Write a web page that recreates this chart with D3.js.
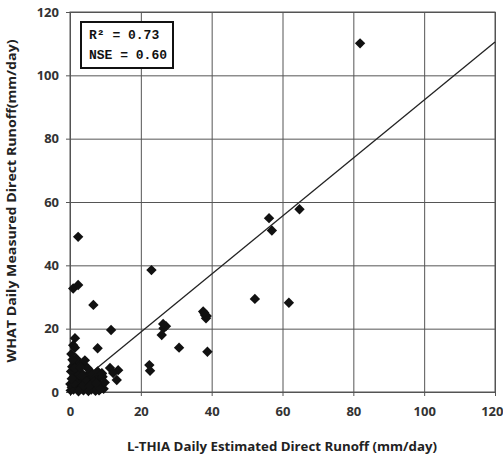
<!DOCTYPE html>
<html lang="en">
<head>
<meta charset="UTF-8">
<title>Runoff scatter</title>
<script src="https://cdn.jsdelivr.net/npm/d3@7"></script>
<style>
  body { margin: 0; background: #fff; }
  svg { display: block; }
</style>
</head>
<body>
<svg id="chart"></svg>
<script>
// L-THIA estimated (x) vs WHAT measured (y) daily direct runoff, mm/day
var estRunoff = [81.9, 56.2, 57.0, 64.8, 52.2, 61.8,
  2.3, 0.9, 2.3, 6.6, 23.0, 11.6, 7.8, 1.4, 0.9, 1.4,
  22.4, 22.6, 26.4, 25.9, 27.1, 26.3, 30.8, 37.6, 38.1, 38.4, 38.6, 37.9, 38.8,
  11.3, 13.6, 13.2, 9.0, 12.2,
  0.2, 0.5, 0.8, 1.0, 1.2, 0.3, 0.6, 1.5, 2.0, 2.5, 2.2, 3.0, 3.5, 3.2, 4.0, 4.5,
  4.8, 5.5, 5.8, 6.2, 6.5, 7.0, 7.5, 8.0, 8.5, 8.8, 5.0, 2.8, 1.8, 4.2, 0.4, 3.8,
  6.0, 7.8, 9.2, 0.1, 1.6, 2.6, 4.4,
  9.5, 9.8, 9.0, 8.2, 7.2, 6.8, 5.2, 3.6, 2.4, 1.1, 0.7, 5.6, 7.4, 8.6, 3.4, 1.3, 0.5, 2.9];
var measRunoff = [110.1, 54.9, 51.0, 57.7, 29.4, 28.2,
  49.0, 32.7, 33.8, 27.5, 38.5, 19.6, 13.8, 17.0, 14.8, 14.0,
  8.5, 6.7, 20.1, 18.0, 20.8, 21.5, 14.0, 25.4, 24.3, 23.3, 24.0, 25.0, 12.7,
  7.6, 6.9, 3.8, 5.9, 6.0,
  0.5, 1.5, 3.0, 0.8, 5.0, 6.5, 8.0, 9.5, 7.0, 4.0, 2.0, 1.0, 3.5, 6.0, 8.5, 5.0,
  2.5, 1.2, 4.0, 6.0, 2.5, 4.5, 1.5, 3.0, 5.0, 2.0, 7.5, 9.0, 10.5, 10.0, 12.0, 0.5,
  0.8, 6.5, 4.8, 2.5, 3.0, 5.5, 3.8,
  1.0, 3.0, 5.8, 0.5, 0.4, 3.3, 0.3, 1.8, 0.2, 2.8, 10.2, 2.0, 2.8, 1.0, 5.2, 7.5, 4.2, 7.8];
var fitStart = 6, fitEnd = 120;
var fitSlope = 0.916, fitIntercept = 0.6;
var xTicks = [0, 20, 40, 60, 80, 100, 120];
var yTicks = [0, 20, 40, 60, 80, 100, 120];
var statLines = ["R\u00b2 = 0.73", "NSE = 0.60"];

var W = 503, H = 459;
var margin = {top: 12, right: 8, bottom: 67, left: 70};

var svg = d3.select("#chart").attr("width", W).attr("height", H);
svg.append("rect").attr("width", W).attr("height", H).attr("fill", "#fff");

var x = d3.scaleLinear().domain([0, 120]).range([margin.left, W - margin.right]);
var y = d3.scaleLinear().domain([0, 120]).range([H - margin.bottom, margin.top]);

var gridColor = "#555";
var labelFont = "'Open Sans', 'DejaVu Sans', sans-serif";

// gridlines + ticks
svg.append("g")
  .attr("transform", "translate(0," + (H - margin.bottom) + ")")
  .call(d3.axisBottom(x).tickValues(xTicks)
    .tickSize(-(H - margin.top - margin.bottom)).tickPadding(15))
  .call(function(g) {
    g.select(".domain").remove();
    g.selectAll(".tick line").attr("stroke", gridColor).attr("y2", 4)
      .attr("y1", -(H - margin.top - margin.bottom));
    g.selectAll(".tick text").attr("fill", "#333")
      .style("font", "bold 13px " + labelFont);
    // last label sits on the right edge, keep it inside
    g.selectAll(".tick text").filter(function(d) { return d === 120; })
      .attr("text-anchor", "end").attr("x", 8);
  });

svg.append("g")
  .attr("transform", "translate(" + margin.left + ",0)")
  .call(d3.axisLeft(y).tickValues(yTicks).tickSize(4).tickPadding(7))
  .call(function(g) {
    g.select(".domain").remove();
    g.selectAll(".tick line").attr("stroke", gridColor)
      .attr("x1", W - margin.left - margin.right).attr("x2", -4);
    g.selectAll(".tick text").attr("fill", "#333")
      .style("font", "bold 13px " + labelFont);
  });

// plot border
svg.append("rect")
  .attr("x", margin.left).attr("y", margin.top)
  .attr("width", W - margin.left - margin.right)
  .attr("height", H - margin.top - margin.bottom)
  .attr("fill", "none").attr("stroke", gridColor).attr("stroke-width", 1);

// regression line
svg.append("line")
  .attr("x1", x(fitStart)).attr("y1", y(fitSlope * fitStart + fitIntercept))
  .attr("x2", x(fitEnd)).attr("y2", y(fitSlope * fitEnd + fitIntercept))
  .attr("stroke", "#222").attr("stroke-width", 1.3);

// diamonds
var r = 5.2;
svg.append("g").selectAll("path")
  .data(d3.range(estRunoff.length))
  .enter().append("path")
  .attr("transform", function(i) { return "translate(" + x(estRunoff[i]) + "," + y(measRunoff[i]) + ")"; })
  .attr("d", "M0," + (-r) + "L" + r + ",0L0," + r + "L" + (-r) + ",0Z")
  .attr("fill", "#111");

// stats box
svg.append("rect")
  .attr("x", 81).attr("y", 22).attr("width", 92).attr("height", 46)
  .attr("fill", "#fff").attr("stroke", "#111").attr("stroke-width", 2);
svg.append("g").selectAll("text")
  .data(statLines)
  .enter().append("text")
  .attr("x", 89).attr("y", function(d, i) { return 39 + i * 20; })
  .attr("fill", "#111")
  .style("font", "bold 13px 'Liberation Mono', 'DejaVu Sans Mono', monospace")
  .text(function(d) { return d; });

// axis titles
svg.append("text")
  .attr("x", 282).attr("y", 451)
  .attr("text-anchor", "middle").attr("fill", "#222")
  .attr("textLength", 310).attr("lengthAdjust", "spacingAndGlyphs")
  .style("font", "bold 13px " + labelFont)
  .text("L-THIA  Daily Estimated Direct Runoff (mm/day)");

svg.append("text")
  .attr("transform", "translate(16,201) rotate(-90)")
  .attr("text-anchor", "middle").attr("fill", "#222")
  .attr("textLength", 323).attr("lengthAdjust", "spacingAndGlyphs")
  .style("font", "bold 13px " + labelFont)
  .text("WHAT Daily Measured Direct Runoff(mm/day)");
</script>
</body>
</html>
